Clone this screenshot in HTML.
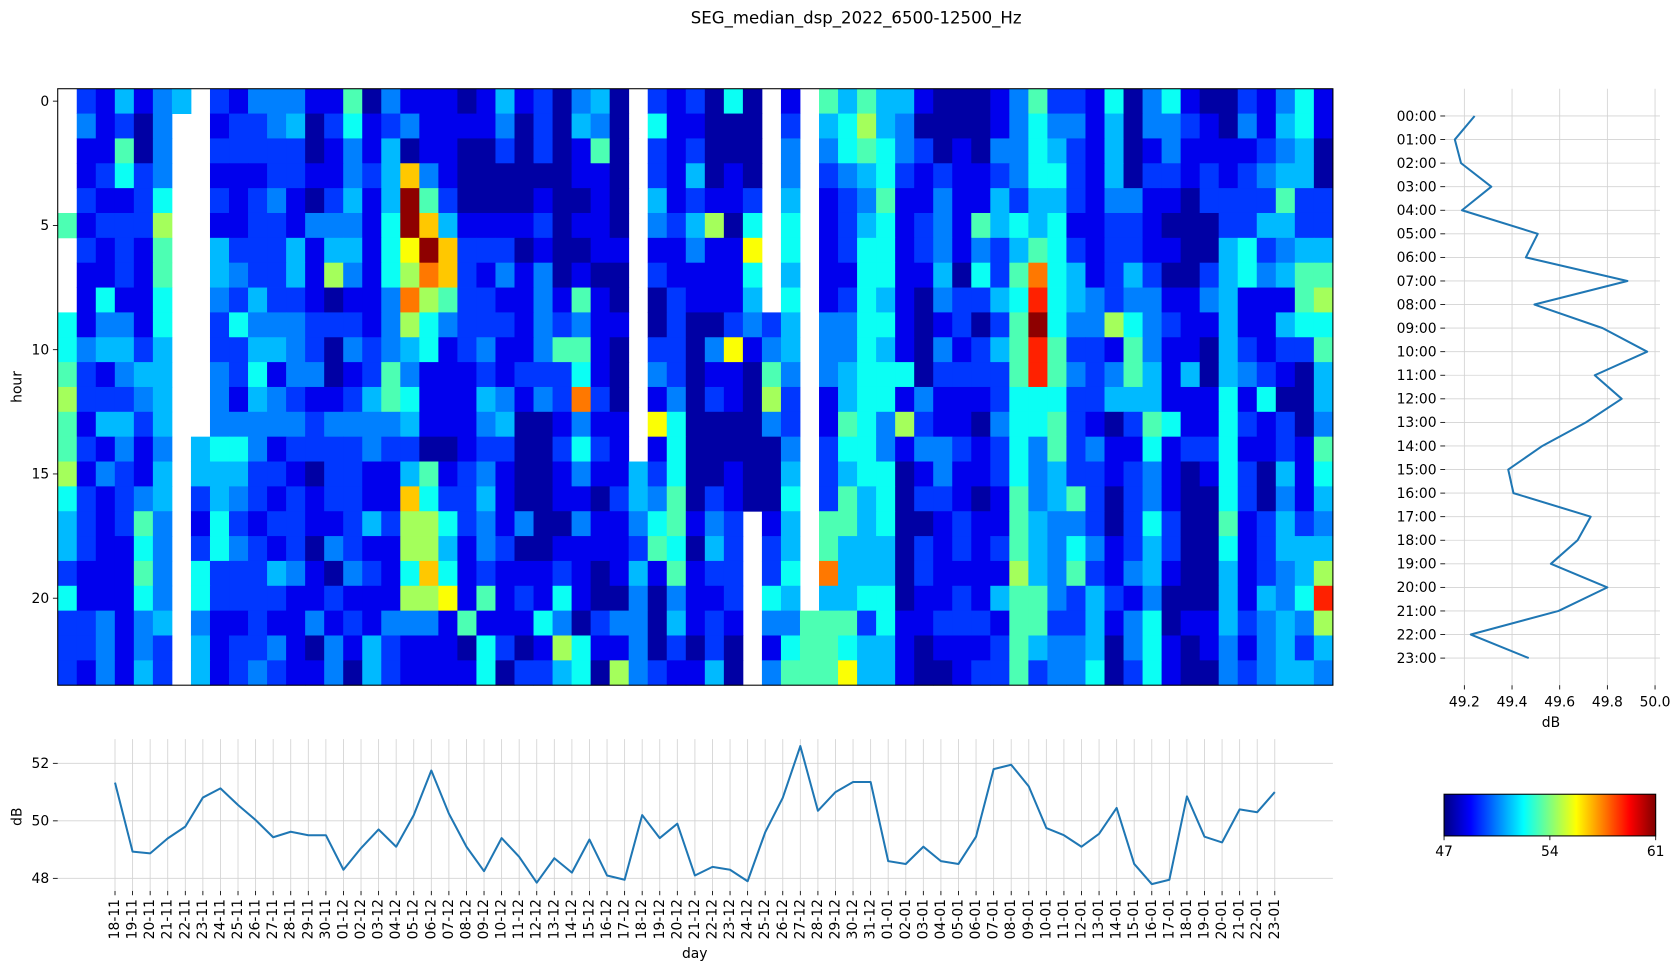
<!DOCTYPE html>
<html><head><meta charset="utf-8"><title>SEG median dsp</title>
<style>
html,body{margin:0;padding:0;background:#fff;}
svg{display:block;font-family:"DejaVu Sans","Liberation Sans",sans-serif;}
text{fill:#000;}
</style></head>
<body>
<svg id="chart" width="1676" height="969" viewBox="0 0 1568 906.5" preserveAspectRatio="none" xmlns="http://www.w3.org/2000/svg">
<defs><linearGradient id="cbgrad" x1="0" y1="0" x2="1" y2="0"></linearGradient></defs>
<text x="801" y="22" font-size="15.5" text-anchor="middle">SEG_median_dsp_2022_6500-12500_Hz</text>
<text x="0" y="0" font-size="13" text-anchor="middle" transform="translate(20,362) rotate(-90)">hour</text>
<text x="0" y="0" font-size="13" text-anchor="middle" transform="translate(20,764) rotate(-90)">dB</text>
<text x="650" y="896" font-size="13" text-anchor="middle">day</text>
<text x="1451" y="680" font-size="13" text-anchor="middle">dB</text>
<g id="heat"></g><g id="daily"></g><g id="profile"></g><g id="cbar"></g>
</svg>
<script>
// ---------- data ----------
const levelCodes = ['0','1','2','3','4','5','6','7','8','9','a','b','c'];
const levelValues = [47.5,48.5,49.5,50.5,51.3,52.4,53.3,54.5,55.7,56.5,57.6,58.8,60.8];
const heatRows = [
".214134.2133311603111014120340."+"212050.1.64644100013622150351002"+"1351",
".31203..1223402512311113020430."+"511000.2.45743000013533140332103"+"1451",
".11603..2222201314011002020160."+"212000.3.35653201033542140131111"+"2340",
".12523..1112211324931000000110."+"214010.3.23452121123552140221212"+"3440",
".21125..2123102414c62000010010."+"412112.4.12361131142442133110222"+"2622",
"612227..1122133315c94111120110."+"324705.5.12451231645451122100022"+"4422",
".21216..42224144158c9222010011."+"113118.5.12551231324652122110045"+"2344",
".11216..43224173157a9213130100."+"211115.4.11551140526a54124200245"+"3466",
".15115..3242210113a76221131610."+"021114.5.12541032245b54323311341"+"1167",
"513315..2533322213753222132311."+"02002324.33551012026c53375321141"+"1455",
"534424..2244320323451231136610."+"22038134.33541031246b62216311042"+"1226",
"621344..3251330126311121222510."+"32011063.34555022226b63236414043"+"2104",
"722234..3143211246511143132a20."+"13021072.14551311125552244411151"+"5004",
"614424..3333323333411134001311."+"85000032.16537211035562102651152"+"1203",
"621313.45531222232200122002521."+"15000003.25531332125362311512251"+"1216",
"713214.44422102211461231001311 4".replace(' ','')+"25001004.24550131125342212310152"+"0415",
"521234.24321212211952241001102 4".replace(' ','')+"36021005.26450221016346202310052"+"0314",
"421263.15212211242775231300311 3".replace(' ','')+"56132.14.66450012116433202520061"+"2423",
"421153.25321203211774132001111 2".replace(' ','')+"65042.24.64440212126435312420051"+"2444",
"211163.52224310321595121112101 4".replace(' ','')+"16122.25.a4440211117436213410041"+"2347",
"511153.52222112111778161215100 3".replace(' ','')+"03112.54.44550112146632421300041"+"435b",
"223134.31121131213331611153023 3".replace(' ','')+"04121.33666251122216622413501142"+"3437",
"223132.41223103142111052017511302020.1566544101112643340351013134"+"24",
"213142.41232113042111150224507321140.3666844100122623350251003234"+"43"
];
const heatTickRows = [0,5,10,15,20];
const days = ["18-11","19-11","20-11","21-11","22-11","23-11","24-11","25-11","26-11","27-11","28-11","29-11","30-11",
"01-12","02-12","03-12","04-12","05-12","06-12","07-12","08-12","09-12","10-12","11-12","12-12","13-12","14-12","15-12","16-12","17-12","18-12","19-12","20-12","21-12","22-12","23-12","24-12","25-12","26-12","27-12","28-12","29-12","30-12","31-12",
"01-01","02-01","03-01","04-01","05-01","06-01","07-01","08-01","09-01","10-01","11-01","12-01","13-01","14-01","15-01","16-01","17-01","18-01","19-01","20-01","21-01","22-01","23-01"];
const dailyMean = [51.33,48.93,48.87,49.39,49.8,50.81,51.13,50.55,50.03,49.43,49.62,49.5,49.5,48.3,49.05,49.7,49.1,50.2,51.75,50.25,49.1,48.25,49.4,48.75,47.85,48.7,48.2,49.35,48.1,47.95,50.2,49.4,49.9,48.1,48.4,48.3,47.9,49.6,50.8,52.6,50.35,51.0,51.35,51.35,48.6,48.5,49.1,48.6,48.5,49.45,51.8,51.95,51.2,49.75,49.5,49.1,49.55,50.45,48.5,47.8,47.95,50.85,49.45,49.25,50.4,50.3,51.0];
const dailyTicks = [48,50,52];
const hours = ["00:00","01:00","02:00","03:00","04:00","05:00","06:00","07:00","08:00","09:00","10:00","11:00","12:00","13:00","14:00","15:00","16:00","17:00","18:00","19:00","20:00","21:00","22:00","23:00"];
const hourlyMean = [49.243,49.16,49.186,49.313,49.19,49.508,49.458,49.884,49.494,49.78,49.967,49.747,49.86,49.71,49.527,49.384,49.406,49.73,49.675,49.563,49.80,49.595,49.227,49.47];
const profileTicks = [49.2,49.4,49.6,49.8,50.0];
const cbarTicks = [47,54,61];
const cmin = 47, cmax = 61;

// ---------- helpers ----------
const NS='http://www.w3.org/2000/svg';
function el(tag, attrs, parent){const e=document.createElementNS(NS,tag);for(const k in attrs)e.setAttribute(k,attrs[k]);parent.appendChild(e);return e;}
function cl(x){return Math.max(0,Math.min(1,x));}
function jet(v){const t=cl((v-cmin)/(cmax-cmin));
 const r=cl(1.5-Math.abs(4*t-3)),g=cl(1.5-Math.abs(4*t-2)),b=cl(1.5-Math.abs(4*t-1));
 return 'rgb('+Math.round(r*255)+','+Math.round(g*255)+','+Math.round(b*255)+')';}
function decode(ch){const i=levelCodes.indexOf(ch);return i<0?null:levelValues[i];}

// ---------- heatmap ----------
const H=document.getElementById('heat');
const hx0=54,hx1=1247,hy0=83,hy1=641;
const nCols=days.length,nRows=heatRows.length;
const cw=(hx1-hx0)/nCols,ch=(hy1-hy0)/nRows;
function xH(i){return hx0+i*cw;}
function yH(r){return hy0+r*ch;}
for(let r=0;r<nRows;r++){
 for(let c=0;c<nCols;c++){
  const v=decode(heatRows[r][c]);
  if(v===null)continue;
  const rect=el('rect',{x:xH(c),y:yH(r),width:cw+0.4,height:ch+0.4,fill:jet(v)},H);
  
  
 }
}
const frame=el('rect',{x:hx0,y:hy0,width:hx1-hx0,height:hy1-hy0,fill:'none',stroke:'#000','stroke-width':1},H);


heatTickRows.forEach(r=>{
 const y=yH(r+0.5);
 const tk=el('line',{x1:hx0-4.5,x2:hx0,y1:y,y2:y,stroke:'#000','stroke-width':0.8},H);
 
 
 const tl=el('text',{x:hx0-8,y:y+4.5,'font-size':13,'text-anchor':'end'},H);
 tl.textContent=r;
 
 
});

// ---------- daily mean chart ----------
const D=document.getElementById('daily');
const dx0=54,dx1=1247,dy0=691.4,dy1=833.5;
function xD(i){return 107.6+i*16.44;}
function yD(v){return 821.7-(v-48)*26.9;}
days.forEach((d,i)=>{
 const x=xD(i);
 const g=el('line',{x1:x,x2:x,y1:dy0,y2:dy1,stroke:'#d3d3d3','stroke-width':0.8},D);
 
 
 const tk=el('line',{x1:x,x2:x,y1:dy1,y2:dy1+4,stroke:'#000','stroke-width':0.8},D);
 
 
 const tl=el('text',{x:0,y:0,'font-size':13,'text-anchor':'end','dominant-baseline':'central',transform:'translate('+x+','+(dy1+7.5)+') rotate(-90)'},D);
 tl.textContent=d;
 
 
});
dailyTicks.forEach(v=>{
 const y=yD(v);
 const g=el('line',{x1:dx0,x2:dx1,y1:y,y2:y,stroke:'#d3d3d3','stroke-width':0.8},D);
 
 
 const tk=el('line',{x1:dx0-4.5,x2:dx0,y1:y,y2:y,stroke:'#000','stroke-width':0.8},D);
 
 
 const tl=el('text',{x:dx0-8,y:y+4.5,'font-size':13,'text-anchor':'end'},D);
 tl.textContent=v;
 
 
});
const dl=el('polyline',{points:dailyMean.map((v,i)=>xD(i)+','+yD(v)).join(' '),fill:'none',stroke:'#1f77b4','stroke-width':1.9,'stroke-linejoin':'round'},D);



// ---------- hourly profile ----------
const P=document.getElementById('profile');
const px0=1352,px1=1553,py0=83,py1=641;
function xP(v){return 1370+(v-49.2)*223;}
function yP(h){return 108.5+h*22.05;}
profileTicks.forEach(v=>{
 const x=xP(v);
 const g=el('line',{x1:x,x2:x,y1:py0,y2:py1,stroke:'#d3d3d3','stroke-width':0.8},P);
 
 
 const tk=el('line',{x1:x,x2:x,y1:py1,y2:py1+4,stroke:'#000','stroke-width':0.8},P);
 
 
 const tl=el('text',{x:x,y:py1+20,'font-size':13,'text-anchor':'middle'},P);
 tl.textContent=v.toFixed(1);
 
 
});
hours.forEach((h,i)=>{
 const y=yP(i);
 const g=el('line',{x1:px0,x2:px1,y1:y,y2:y,stroke:'#d3d3d3','stroke-width':0.8},P);
 
 
 const tk=el('line',{x1:px0-4.5,x2:px0,y1:y,y2:y,stroke:'#000','stroke-width':0.8},P);
 
 
 const tl=el('text',{x:px0-8,y:y+4.5,'font-size':13,'text-anchor':'end'},P);
 tl.textContent=h;
 
 
});
const pl=el('polyline',{points:hourlyMean.map((v,i)=>xP(v)+','+yP(i)).join(' '),fill:'none',stroke:'#1f77b4','stroke-width':1.9,'stroke-linejoin':'round'},P);



// ---------- colorbar ----------
const grad=document.getElementById('cbgrad');
for(let k=0;k<=40;k++){
 const s=el('stop',{offset:(k/40),'stop-color':jet(cmin+(cmax-cmin)*k/40)},grad);
}
const C=document.getElementById('cbar');
const cx0=1351,cx1=1549,cy0=743,cy1=782;
function xC(v){return cx0+(v-cmin)/(cmax-cmin)*(cx1-cx0);}
const cb=el('rect',{x:cx0,y:cy0,width:cx1-cx0,height:cy1-cy0,fill:'url(#cbgrad)',stroke:'#000','stroke-width':1},C);


cbarTicks.forEach(v=>{
 const x=xC(v);
 const tk=el('line',{x1:x,x2:x,y1:cy1,y2:cy1+4,stroke:'#000','stroke-width':0.8},C);
 
 
 const tl=el('text',{x:x,y:cy1+19,'font-size':13,'text-anchor':'middle'},C);
 tl.textContent=v;
 
 
});
</script>
</body></html>
